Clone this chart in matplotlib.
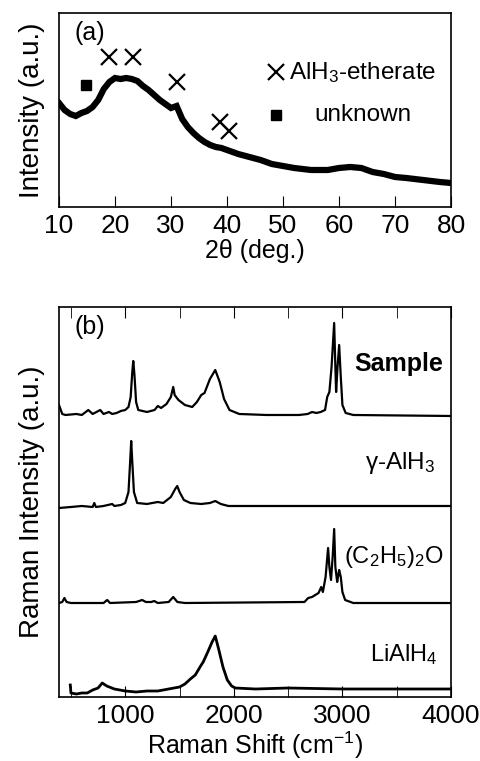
import numpy as np
import matplotlib
matplotlib.use('Agg')
import matplotlib.pyplot as plt

plt.rcParams['font.family'] = ['Liberation Sans', 'DejaVu Sans']
plt.rcParams['mathtext.fontset'] = 'custom'
plt.rcParams['mathtext.rm'] = 'Liberation Sans'
plt.rcParams['mathtext.default'] = 'regular'

# (a) XRD pattern
tt = [10, 11, 12, 13, 14, 15, 16, 17, 18, 19, 20, 21, 22, 23, 24, 25, 26, 27, 28,
      29, 30, 31, 32, 33, 34, 35, 36, 37, 38, 39, 40, 42, 44, 46, 48, 50, 52, 55,
      58, 60, 62, 64, 66, 68, 70, 72, 75, 78, 80]
xrd = [104, 97, 93, 91, 94, 96, 100, 107, 118, 125, 129, 128, 129, 128, 126, 121,
       117, 112, 107, 103, 99, 101, 88, 80, 74, 69, 65, 62, 60, 59, 57, 53, 50, 47,
       43, 41, 39, 37, 37, 39, 40, 39, 35, 33, 30, 29, 27, 25, 24]
ether_x = [19.0, 23.3, 31.0, 38.7, 40.3]
ether_y = [150, 150, 125, 85, 76]
unk_x = [14.8]
unk_y = [122]

# (b) Raman spectra (offset traces)
w_samp = [390, 420, 450, 550, 600, 660, 700, 770, 800, 850, 880, 920, 960, 1000,
          1030, 1050, 1065, 1074, 1085, 1100, 1120, 1200, 1270, 1300, 1330, 1380,
          1420, 1442, 1455, 1490, 1550, 1617, 1660, 1700, 1730, 1780, 1829, 1870,
          1910, 1960, 2050, 2300, 2600, 2680, 2720, 2760, 2800, 2840, 2860, 2880,
          2900, 2924, 2935, 2942, 2955, 2970, 2985, 3000, 3030, 3100, 4000]
i_samp = [292, 283, 282, 283, 282, 287, 283, 287, 283, 285, 283, 284, 286, 287,
          290, 300, 325, 336, 322, 295, 287, 285, 287, 291, 289, 293, 300, 310, 302,
          297, 292, 290, 295, 302, 304, 318, 327, 315, 298, 287, 283, 282, 282, 283,
          285, 284, 285, 287, 300, 305, 330, 374, 330, 305, 330, 352, 320, 292, 284,
          282, 281]

w_gam = [390, 500, 600, 700, 715, 730, 800, 880, 900, 960, 1000, 1030, 1045, 1055,
         1065, 1080, 1110, 1200, 1300, 1350, 1420, 1460, 1479, 1500, 1540, 1600,
         1700, 1780, 1829, 1880, 1950, 2200, 4000]
i_gam = [189, 190, 191, 190, 194, 190, 191, 193, 191, 192, 194, 205, 235, 256, 235,
         205, 194, 193, 195, 194, 200, 208, 211, 205, 197, 194, 193, 194, 196, 193,
         191, 191, 191]

w_eth = [390, 420, 440, 460, 500, 800, 834, 860, 1100, 1156, 1190, 1240, 1267, 1300,
         1400, 1442, 1480, 1550, 2650, 2685, 2720, 2780, 2805, 2820, 2845, 2868,
         2880, 2895, 2910, 2924, 2935, 2952, 2962, 2970, 2985, 3000, 3025, 3100, 4000]
i_eth = [94, 95, 99, 95, 94, 94, 97, 94, 95, 97, 95, 95, 96, 94, 95, 100, 95, 94, 95,
         99, 100, 104, 110, 105, 120, 149, 130, 117, 140, 168, 130, 115, 122, 127,
         120, 105, 97, 94, 94]

w_li = [494, 500, 550, 600, 650, 700, 750, 788, 830, 900, 1000, 1100, 1200, 1300,
        1400, 1500, 1550, 1600, 1645, 1700, 1718, 1760, 1800, 1829, 1860, 1900, 1940,
        1980, 2013, 2200, 2500, 3000, 3500, 4000]
i_li = [12, 4, 3, 4, 4, 7, 9, 14, 11, 8, 6, 5, 6, 6, 8, 10, 13, 18, 22, 32, 35, 45,
        55, 61, 48, 30, 17, 11, 9, 8, 9, 8, 8, 8]

fig = plt.figure(figsize=(4.8, 7.61), dpi=100)

# ---- panel (a)
ax1 = fig.add_axes([0.1229, 0.728, 0.8167, 0.2549])
ax1.plot(tt, xrd, color='black', lw=4.5, solid_joinstyle='miter')
ax1.plot(ether_x, ether_y, 'x', color='black', ms=11, mew=1.6)
ax1.plot(unk_x, unk_y, 's', color='black', ms=7)
ax1.set_xlim(10, 80)
ax1.set_ylim(0, 194)
ax1.set_xticks(np.arange(10, 81, 10))
ax1.set_yticks([])
ax1.tick_params(axis='x', direction='in', length=8, labelsize=19, pad=5)
ax1.set_xlabel('2θ (deg.)', fontsize=18, labelpad=1)
ax1.set_ylabel('Intensity (a.u.)', fontsize=20, labelpad=10)
ax1.text(0.04, 0.86, '(a)', transform=ax1.transAxes, fontsize=18)
# legend
ax1.plot([0.553], [0.695], 'x', color='black', ms=11, mew=1.6, transform=ax1.transAxes)
ax1.plot([0.553], [0.475], 's', color='black', ms=7, transform=ax1.transAxes)
ax1.text(0.775, 0.695, 'AlH$_3$-etherate', transform=ax1.transAxes, fontsize=17.5,
         ha='center', va='center')
ax1.text(0.775, 0.475, 'unknown', transform=ax1.transAxes, fontsize=17.5,
         ha='center', va='center')
for s in ax1.spines.values():
    s.set_linewidth(1.2)

# ---- panel (b)
ax2 = fig.add_axes([0.1229, 0.0841, 0.8167, 0.5125])
for w, i in [(w_samp, i_samp), (w_gam, i_gam), (w_eth, i_eth)]:
    ax2.plot(w, i, color='black', lw=1.6)
ax2.plot(w_li, i_li, color='black', lw=2.0)
ax2.set_xlim(390, 4000)
ax2.set_ylim(0, 390)
ax2.set_xticks([1000, 2000, 3000, 4000])
ax2.set_xticks(np.arange(500, 4000, 500), minor=True)
ax2.set_yticks([])
ax2.tick_params(axis='x', which='both', direction='in', length=8, top=True,
                labelsize=19, pad=5)
ax2.set_xlabel('Raman Shift (cm$^{-1}$)', fontsize=18, labelpad=1)
ax2.set_ylabel('Raman Intensity (a.u.)', fontsize=20, labelpad=10)
ax2.text(0.04, 0.93, '(b)', transform=ax2.transAxes, fontsize=18)
ax2.text(0.98, 0.855, 'Sample', transform=ax2.transAxes, fontsize=18,
         fontweight='bold', ha='right', va='center')
ax2.text(0.96, 0.6, 'γ-AlH$_3$', transform=ax2.transAxes, fontsize=17.5,
         ha='right', va='center')
ax2.text(0.98, 0.36, '(C$_2$H$_5$)$_2$O', transform=ax2.transAxes, fontsize=17,
         ha='right', va='center')
ax2.text(0.965, 0.108, 'LiAlH$_4$', transform=ax2.transAxes, fontsize=17,
         ha='right', va='center')
for s in ax2.spines.values():
    s.set_linewidth(1.2)

fig.savefig('out.png', dpi=100)
